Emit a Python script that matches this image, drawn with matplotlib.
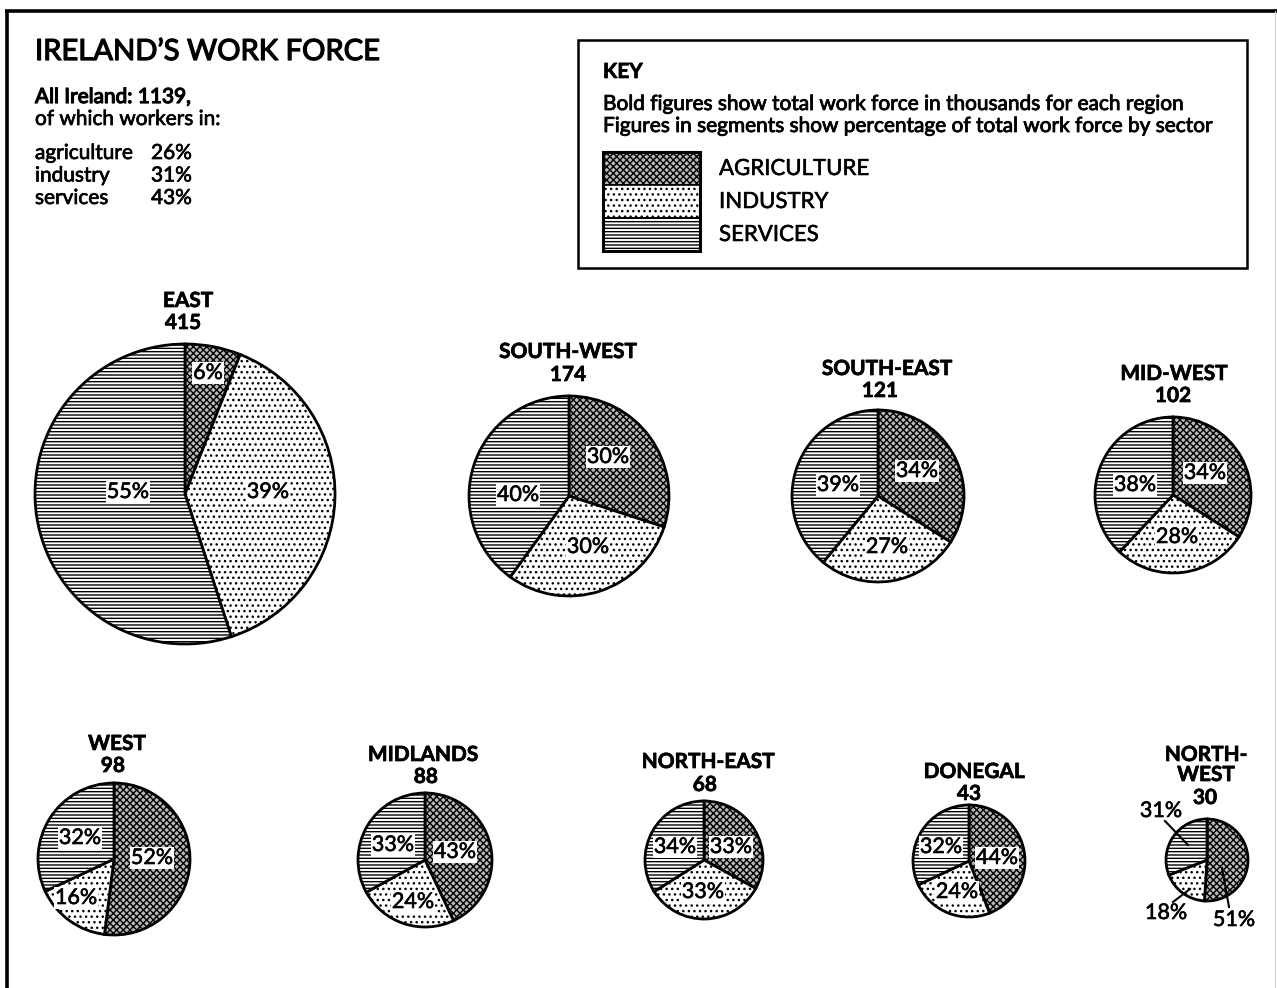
import numpy as np
import matplotlib.pyplot as plt
import matplotlib.patheffects as pe
from matplotlib.patches import Rectangle

plt.rcParams['font.family'] = ['Lato', 'DejaVu Sans']
plt.rcParams['hatch.linewidth'] = 1.0

# data
regions = ['EAST', 'SOUTH-WEST', 'SOUTH-EAST', 'MID-WEST', 'WEST',
           'MIDLANDS', 'NORTH-EAST', 'DONEGAL', 'NORTH-\nWEST']
totals = [415, 174, 121, 102, 98, 88, 68, 43, 30]
agriculture = [6, 30, 34, 34, 52, 43, 33, 44, 51]
industry = [39, 30, 27, 28, 16, 24, 33, 24, 18]
services = [55, 40, 39, 38, 32, 33, 34, 32, 31]

sectors = ['AGRICULTURE', 'INDUSTRY', 'SERVICES']
sector_words = ['agriculture', 'industry', 'services']
all_ireland_total = 1139
all_ireland_share = [26, 31, 43]

# layout, in pixels from the top left corner
centers = [(185, 494), (569, 496), (878, 496), (1173, 495), (114, 859),
           (425, 860), (704, 860), (969, 861), (1207, 860)]
radii = [150, 100, 86, 78, 76, 67, 59, 56, 41]
name_pos = [(188, 301), (568, 352), (887, 369), (1174, 374), (117, 744),
            (423, 755), (708, 762), (974, 772), (1206, 765)]
total_pos = [(183, 323), (568, 375), (880, 391), (1173, 396), (113, 766),
             (426, 777), (705, 785), (969, 794), (1205, 798)]
pct_pos = [
    [(208, 373), (268, 492), (128, 492)],
    [(608, 457), (588, 547), (518, 495)],
    [(917, 471), (887, 547), (838, 485)],
    [(1205, 473), (1177, 537), (1135, 485)],
    [(152, 858), (76, 898), (80, 838)],
    [(455, 852), (413, 902), (393, 845)],
    [(731, 847), (703, 892), (675, 847)],
    [(997, 858), (957, 892), (941, 847)],
    [(1234, 920), (1166, 913), (1161, 811)],
]
# leader lines for the small north-west pie
nw_leaders = [((1229, 907), (1222, 868)), ((1173, 902), (1190, 889)),
              ((1165, 821), (1188, 845))]

hatches = ['xxxxx', '...', '-----']
fills = ['#b8b8b8', 'white', 'white']


def ink(w):
    return [pe.withStroke(linewidth=w, foreground='black')]


fig = plt.figure(figsize=(12.77, 9.88), dpi=100)
ax = fig.add_axes([0, 0, 1, 1])

for i in range(len(regions)):
    vals = [agriculture[i], industry[i], services[i]]
    wedges, _ = ax.pie(vals, center=centers[i], radius=radii[i],
                       startangle=-90, counterclock=True, frame=True,
                       colors=fills,
                       wedgeprops=dict(edgecolor='black', linewidth=2.0))
    for w, h in zip(wedges, hatches):
        w.set_hatch(h)
    nx, ny = name_pos[i]
    ax.text(nx, ny, regions[i], ha='center', va='center', fontsize=15,
            fontweight='bold', linespacing=1.0, path_effects=ink(0.5))
    tx, ty = total_pos[i]
    ax.text(tx, ty, str(totals[i]), ha='center', va='center', fontsize=15,
            fontweight='bold', path_effects=ink(0.5))
    for j, v in enumerate(vals):
        px, py = pct_pos[i][j]
        if regions[i].startswith('NORTH-\n'):
            ax.text(px, py, f'{v}%', ha='center', va='center', fontsize=15.5,
                    path_effects=ink(0.45))
        else:
            ax.text(px, py, f'{v}%', ha='center', va='center', fontsize=15.5,
                    path_effects=ink(0.45),
                    bbox=dict(boxstyle='square,pad=0.06', fc='white', ec='none'))

for (x0, y0), (x1, y1) in nw_leaders:
    ax.plot([x0, x1], [y0, y1], color='black', lw=1.5)

# title block
ax.text(35, 52, 'IRELAND’S WORK FORCE', fontsize=21, va='center', ha='left',
        path_effects=ink(0.9))
ax.text(35, 97, f'All Ireland: {all_ireland_total},', fontsize=15,
        va='center', ha='left', path_effects=ink(0.9))
ax.text(35, 119, 'of which workers in:', fontsize=15, va='center', ha='left',
        path_effects=ink(0.5))
for k, (word, share) in enumerate(zip(sector_words, all_ireland_share)):
    y = 153 + k * 22.5
    ax.text(35, y, word, fontsize=15, va='center', ha='left', path_effects=ink(0.5))
    ax.text(151, y, f'{share}%', fontsize=15, va='center', ha='left',
            path_effects=ink(0.5))

# key
ax.add_patch(Rectangle((578, 40), 669, 228, fill=False, lw=1.8, ec='black'))
ax.text(603, 72, 'KEY', fontsize=15, fontweight='bold', va='center',
        path_effects=ink(0.5))
ax.text(603, 104, 'Bold figures show total work force in thousands for each region',
        fontsize=15, va='center', path_effects=ink(0.6))
ax.text(603, 126, 'Figures in segments show percentage of total work force by sector',
        fontsize=15, va='center', path_effects=ink(0.6))
for k, (name, h) in enumerate(zip(sectors, hatches)):
    y0 = 152 + k * 33
    ax.add_patch(Rectangle((603, y0), 97, 33, facecolor=fills[k], hatch=h,
                           edgecolor='black', lw=1.2))
    ax.text(719, y0 + 17, name, fontsize=16, va='center', path_effects=ink(0.4))
ax.add_patch(Rectangle((603, 152), 97, 99, fill=False, lw=2.2, ec='black'))

# page frame
ax.plot([5, 1277], [11, 11], color='black', lw=2.6, solid_capstyle='butt')
ax.plot([7, 7], [11, 988], color='black', lw=2.6, solid_capstyle='butt')
ax.plot([1275, 1275], [11, 988], color='#cccccc', lw=0.8)

ax.set_xlim(0, 1277)
ax.set_ylim(988, 0)
ax.set_aspect('equal')
ax.axis('off')

fig.savefig('out.png', dpi=100, facecolor='white')
